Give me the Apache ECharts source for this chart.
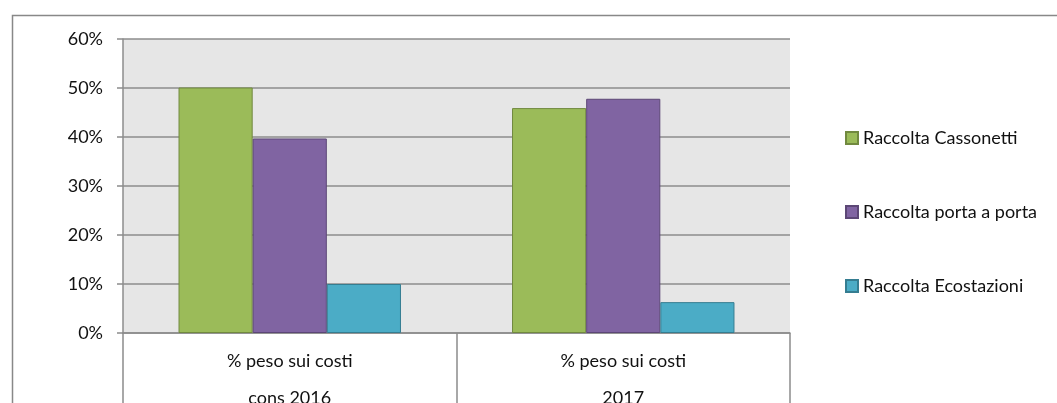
<!DOCTYPE html>
<html><head><meta charset="utf-8">
<script src="https://cdn.jsdelivr.net/npm/echarts@6/dist/echarts.min.js"></script>
<style>html,body{margin:0;padding:0;background:#fff}#c{width:1057px;height:403px}</style>
</head><body><div id="c"></div>
<script>
const categories = ['% peso sui costi\ncons 2016', '% peso sui costi\n2017'];
const seriesNames = ['Raccolta Cassonetti', 'Raccolta porta a porta', 'Raccolta Ecostazioni'];
const cassonetti = [0.501, 0.459];
const portaAPorta = [0.397, 0.478];
const ecostazioni = [0.100, 0.063];
const yTicks = [0, 0.1, 0.2, 0.3, 0.4, 0.5, 0.6];

const colors = ['#9BBB59', '#8064A2', '#4BACC6'];
const borders = ['#71893F', '#5C4776', '#357D91'];
const values = [cassonetti, portaAPorta, ecostazioni];
const FONT = 'Lato';

const chart = echarts.init(document.getElementById('c'), null, {renderer: 'canvas'});
chart.setOption({
  animation: false,
  textStyle: {fontFamily: FONT},
  graphic: [{
    type: 'rect', left: 10, top: 13, silent: true, z: -1,
    shape: {width: 1100, height: 500},
    style: {fill: null, stroke: '#888888', lineWidth: 1.5}
  }],
  grid: {left: 123, top: 39, width: 667, height: 294, show: true, backgroundColor: '#E6E6E6',
    borderWidth: 0, containLabel: false, outerBoundsMode: 'none'},
  legend: {
    orient: 'vertical', left: 840, top: 124, itemGap: 56,
    itemWidth: 12, itemHeight: 12, icon: 'rect',
    textStyle: {fontFamily: FONT, fontSize: 18, color: '#111'},
    data: seriesNames
  },
  xAxis: {
    type: 'category', data: categories,
    axisLine: {show: true, lineStyle: {color: '#8C8C8C', width: 1.5}},
    axisTick: {show: true, alignWithLabel: false, length: 80, lineStyle: {color: '#8C8C8C', width: 1.5}},
    axisLabel: {fontFamily: FONT, fontSize: 18, color: '#111', lineHeight: 37, margin: 10}
  },
  yAxis: {
    type: 'value', min: yTicks[0], max: yTicks[yTicks.length - 1], interval: 0.1,
    axisLine: {show: true, lineStyle: {color: '#8C8C8C', width: 1.5}},
    axisTick: {show: true, length: 6, lineStyle: {color: '#8C8C8C', width: 1.5}},
    splitLine: {show: true, lineStyle: {color: '#8C8C8C', width: 1.5}},
    axisLabel: {fontFamily: FONT, fontSize: 18, color: '#111', margin: 20,
      formatter: v => Math.round(v * 100) + '%'}
  },
  series: seriesNames.map((n, i) => ({
    name: n, type: 'bar', data: values[i],
    barGap: 0, barCategoryGap: '33.3%',
    itemStyle: {color: colors[i], borderColor: borders[i], borderWidth: 1}
  }))
});
</script></body></html>
